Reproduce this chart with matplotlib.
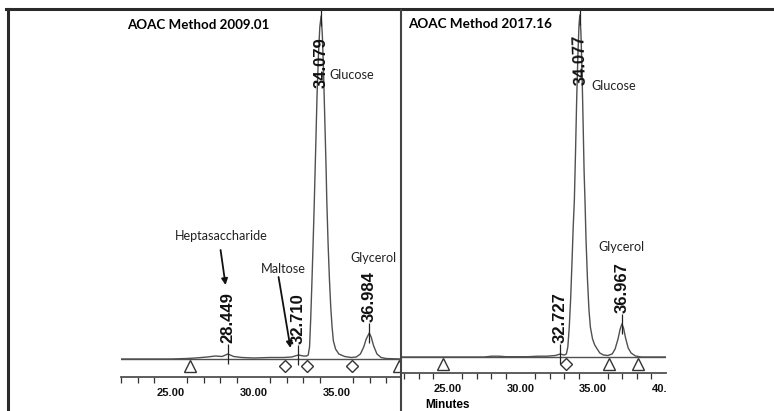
"""
HPLC 色譜圖：AOAC 2009.01 與 AOAC 2017.16 對照
"""

import matplotlib
matplotlib.use("Agg")
import matplotlib.pyplot as plt
from matplotlib.lines import Line2D
from matplotlib.patches import Rectangle
from matplotlib.ticker import FixedLocator, MultipleLocator, FormatStrFormatter

# ---- AOAC Method 2009.01 (minutes, detector response) ----
t_2009 = [22.0, 25.0, 26.0, 26.5, 27.2, 27.7, 28.1, 28.449, 28.8, 29.3, 30.0, 31.0,
          31.8, 32.3, 32.71, 33.0, 33.2, 33.3, 33.38, 33.45, 33.52, 33.6, 33.67,
          33.75, 33.83, 33.92, 34.0, 34.079, 34.15, 34.22, 34.3, 34.38, 34.42, 34.5,
          34.58, 34.66, 34.74, 34.82, 34.95, 35.15, 35.5, 35.9, 36.2, 36.45, 36.65,
          36.8, 36.984, 37.1, 37.25, 37.45, 37.7, 38.0, 38.9]
r_2009 = [0, 0, 0.5, 1, 2, 3, 2.5, 5, 2.5, 1.5, 1, 1.5,
          1.5, 2, 4, 3, 3, 4, 12, 40, 75, 118, 159,
          210, 262, 305, 332, 343, 325, 290, 240, 190, 159, 115,
          80, 52, 32, 18, 10, 5, 2.5, 1.5, 2, 5, 12,
          20, 26, 22, 13, 5, 1.5, 0.5, 0]
rt_2009 = [28.449, 32.710, 34.079, 36.984]
apex_2009 = [5, 4, 343, 26]
triangles_2009 = [26.14, 38.75]
diamonds_2009 = [31.87, 33.25, 35.96]

# ---- AOAC Method 2017.16 ----
t_2017 = [21.85, 27.5, 28.0, 28.5, 29.0, 30.5, 31.2, 31.8, 32.4, 32.727, 33.0, 33.15,
          33.25, 33.35, 33.45, 33.55, 33.62, 33.70, 33.78, 33.86, 33.95, 34.02, 34.077,
          34.15, 34.22, 34.3, 34.37, 34.43, 34.5, 34.6, 34.7, 34.8, 34.95, 35.1, 35.27,
          35.45, 35.7, 36.0, 36.3, 36.5, 36.7, 36.85, 36.967, 37.08, 37.22, 37.4, 37.6,
          37.9, 38.3, 40.0]
r_2017 = [0, 0, 0.8, 0.8, 0.3, 0.3, 0.8, 0.8, 1.5, 3, 2, 3,
          10, 30, 60, 100, 130, 157, 205, 258, 305, 332, 342,
          325, 290, 235, 185, 157, 118, 78, 48, 30, 18, 12, 8,
          4, 2, 1.5, 3, 8, 18, 28, 33, 29, 19, 9, 4,
          1, 0, 0]
rt_2017 = [32.727, 34.077, 36.967]
apex_2017 = [3, 342, 33]
triangles_2017 = [24.66, 36.10, 38.08]
diamonds_2017 = [33.15]

major_ticks_2009 = [25, 30, 35]
major_ticks_2017 = [25, 30, 35, 40]

W, H = 774, 411
NUM_FONT = "Liberation Sans"
LBL_FONT = "Lato"
LINE_C = "#505050"
EDGE_C = "#333333"


def px_box(x0, x1, y_top, y_bot):
    """像素座標 -> figure 比例座標"""
    return [x0 / W, (H - y_bot) / H, (x1 - x0) / W, (y_bot - y_top) / H]


def fit_width(fig, txt, target_px):
    """依參考圖的文字寬度調整字級"""
    fig.canvas.draw()
    w = txt.get_window_extent().width
    txt.set_fontsize(txt.get_fontsize() * target_px / w)


def draw_panel(ax, t, r, rts, apexes, tris, dias, xlim, ylim, majors):
    ax.axhline(0, color=LINE_C, lw=1.0, zorder=1)
    ax.plot(t, r, color=LINE_C, lw=1.0, zorder=2)

    # 峰標記線與保留時間
    for rt, h in zip(rts, apexes):
        ax.vlines(rt, h - 10, h + 10, color="#222222", lw=0.9, zorder=3)
        if h > 100:
            continue
        ax.annotate(f"{rt:.3f}", xy=(rt, h), xytext=(0, 8), textcoords="offset points",
                    rotation=90, ha="center", va="bottom", fontweight="bold",
                    fontsize=12, family=NUM_FONT, color="#111111")

    # 積分起止點
    ax.plot(tris, [-6.5] * len(tris), linestyle="none", marker="^", ms=8,
            mfc="white", mec=EDGE_C, mew=1.0, zorder=4)
    ax.plot(dias, [-6.5] * len(dias), linestyle="none", marker="D", ms=6,
            mfc="white", mec=EDGE_C, mew=1.0, zorder=4)

    ax.set_xlim(*xlim)
    ax.set_ylim(*ylim)
    for s in ("top", "left", "right"):
        ax.spines[s].set_visible(False)
    ax.spines["bottom"].set_color(LINE_C)
    ax.spines["bottom"].set_linewidth(1.3)
    ax.set_yticks([])
    ax.xaxis.set_major_locator(FixedLocator(majors))
    ax.xaxis.set_minor_locator(MultipleLocator(1))
    ax.xaxis.set_major_formatter(FormatStrFormatter("%.2f"))
    ax.tick_params(axis="x", which="major", length=0, pad=8, labelsize=8,
                   labelcolor="#111111")
    ax.tick_params(axis="x", which="minor", length=4, width=0.9, color="#333333")
    for lab in ax.get_xticklabels():
        lab.set_family(NUM_FONT)
        lab.set_fontweight("bold")
    ax.patch.set_alpha(0)


fig = plt.figure(figsize=(W / 100, H / 100), dpi=100)

ax1 = fig.add_axes(px_box(121, 401, 10, 377))
draw_panel(ax1, t_2009, r_2009, rt_2009, apex_2009, triangles_2009, diamonds_2009,
           (22.0, 38.9), (-18, 349), major_ticks_2009)

ax2 = fig.add_axes(px_box(402, 666, 10, 373))
draw_panel(ax2, t_2017, r_2017, rt_2017, apex_2017, triangles_2017, diamonds_2017,
           (21.85, 40.0), (-16, 347), major_ticks_2017)

# 葡萄糖峰的保留時間（寫在峰內）
ax1.annotate(f"{rt_2009[2]:.3f}", xy=(rt_2009[2], apex_2009[2]), xytext=(0, -52),
             textcoords="offset points", rotation=90, ha="center", va="bottom",
             fontsize=12, fontweight="bold", family=NUM_FONT, color="#111111", zorder=5)
ax2.annotate(f"{rt_2017[1]:.3f}", xy=(rt_2017[1], apex_2017[1]), xytext=(0, -51),
             textcoords="offset points", rotation=92, ha="center", va="bottom",
             fontsize=12, fontweight="bold", family=NUM_FONT, color="#111111", zorder=5)

# 標題
title1 = ax1.text(0.021, 0.959, "AOAC Method 2009.01", transform=ax1.transAxes,
                  ha="left", va="center", fontsize=11, fontweight="bold",
                  family=LBL_FONT)
title2 = ax2.text(0.023, 0.961, "AOAC Method 2017.16", transform=ax2.transAxes,
                  ha="left", va="center", fontsize=11, fontweight="bold",
                  family=LBL_FONT)

# 化合物名稱
lbl = dict(fontsize=9.2, family=LBL_FONT, color="#222222", va="center")
names = [
    ax1.text(34.58, 284, "Glucose", ha="left", **lbl),
    ax1.text(28.07, 123, "Heptasaccharide", ha="center", **lbl),
    ax1.text(31.81, 90, "Maltose", ha="center", **lbl),
    ax1.text(37.23, 101, "Glycerol", ha="center", **lbl),
    ax2.text(34.86, 271, "Glucose", ha="left", **lbl),
    ax2.text(36.92, 110, "Glycerol", ha="center", **lbl),
]

arrow = dict(arrowstyle="-|>", color="#111111", lw=1.3, mutation_scale=9,
             shrinkA=0, shrinkB=0)
ax1.annotate("", xy=(28.31, 74), xytext=(28.01, 109), arrowprops=arrow)
ax1.annotate("", xy=(32.23, 11), xytext=(31.51, 82), arrowprops=arrow)

# x 軸名稱
ax2.set_xlabel("Minutes", fontsize=8.5, fontweight="bold", family=NUM_FONT)
ax2.xaxis.set_label_coords((447 - 402) / 264, (373 - 405) / 363)
ax2.xaxis.label.set_va("center")

# 外框與分隔線
fig.add_artist(Line2D([6 / W, 1], [(H - 9) / H] * 2, color="#2a2a2a", lw=2.2))
fig.add_artist(Line2D([7.5 / W] * 2, [0, (H - 9) / H], color="#2a2a2a", lw=2.2))
fig.add_artist(Line2D([401.5 / W] * 2, [0, (H - 10) / H], color="#444444", lw=1.5))
# 右側刻度文字被裁切
fig.add_artist(Rectangle((667 / W, 0), 1 - 667 / W, (H - 12) / H,
                         transform=fig.transFigure, facecolor="white",
                         edgecolor="none", zorder=10))

# 依參考圖寬度調整字級
fit_width(fig, title1, 142)
fit_width(fig, title2, 144)
fit_width(fig, names[1], 92)
size = names[1].get_fontsize()
for n in names:
    n.set_fontsize(size)

fig.savefig("out.png", dpi=100)
